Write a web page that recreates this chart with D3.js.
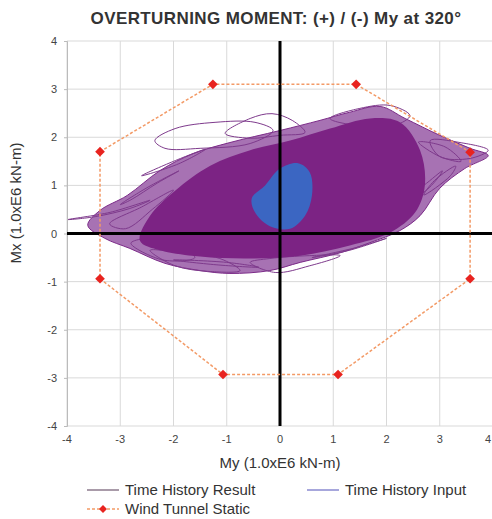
<!DOCTYPE html>
<html lang="en">
<head>
<meta charset="UTF-8">
<title>Overturning moment</title>
<script src="https://d3js.org/d3.v7.min.js"></script>
<style>
    body { margin: 0; background: #fff; }
    text { font-family: "Liberation Sans", Arial, sans-serif; }
    .grid line { stroke: #d9d9d9; stroke-width: 1; }
    .tick-label { font-size: 11px; fill: #444; }
</style>
</head>
<body>
<svg id="chart" width="492" height="519"></svg>
<script>
    // axis ticks
    const xTicks = [-4, -3, -2, -1, 0, 1, 2, 3, 4];
    const yTicks = [-4, -3, -2, -1, 0, 1, 2, 3, 4];

    // Wind Tunnel Static envelope (My, Mx), closed octagon
    const windTunnel = [
        [-3.38, 1.70], [-1.26, 3.10], [1.43, 3.10], [3.57, 1.69],
        [3.57, -0.94], [1.09, -2.93], [-1.07, -2.93], [-3.38, -0.94], [-3.38, 1.70]
    ];

    // Time History Result: outer envelope of the trajectory cloud
    const resultEnvelope = [
        [-3.61, 0.17], [-3.38, 0.48], [-2.87, 0.79], [-2.25, 1.31], [-1.63, 1.66],
        [-0.94, 1.89], [0.00, 2.14], [0.75, 2.35], [1.31, 2.52], [1.88, 2.64],
        [2.35, 2.39], [3.00, 2.04], [3.57, 1.77], [3.91, 1.62], [3.47, 1.35],
        [3.00, 0.94], [2.63, 0.37], [2.25, 0.06], [1.69, -0.19], [1.13, -0.40],
        [0.38, -0.60], [-0.19, -0.77], [-0.94, -0.83], [-1.50, -0.77],
        [-2.16, -0.62], [-2.82, -0.31], [-3.29, -0.10]
    ];

    // Time History Result: densely overlapped core
    const resultCore = [
        [-2.63, -0.15], [-2.44, 0.37], [-1.97, 0.89], [-1.31, 1.41], [-0.56, 1.73],
        [0.19, 1.93], [0.94, 2.18], [1.69, 2.39], [2.25, 2.31], [2.63, 1.73],
        [2.72, 1.00], [2.54, 0.44], [2.07, 0.02], [1.31, -0.25], [0.38, -0.46],
        [-0.56, -0.52], [-1.50, -0.48], [-2.25, -0.35]
    ];

    // individual loops visible around the edge of the cloud
    const resultLoops = [
        [[-2.35, 1.93], [-1.97, 2.18], [-1.22, 2.31], [-0.47, 2.31], [-0.13, 2.14], [-0.56, 1.87], [-1.50, 1.77], [-2.16, 1.77]],
        [[-1.03, 2.08], [-0.56, 2.39], [-0.15, 2.49], [0.23, 2.35], [0.47, 2.10], [0.00, 2.04], [-0.56, 1.98]],
        [[0.94, 2.39], [1.50, 2.60], [2.07, 2.66], [2.44, 2.45], [2.16, 2.25], [1.41, 2.25]],
        [[2.82, 1.93], [3.38, 1.89], [3.91, 1.73], [3.57, 1.56], [3.00, 1.60]],
        [[-2.44, -0.35], [-1.97, -0.67], [-1.31, -0.79], [-0.75, -0.77], [-1.13, -0.52], [-1.88, -0.40]],
        [[-0.56, -0.60], [-0.09, -0.81], [0.56, -0.67], [1.13, -0.46], [0.56, -0.46], [-0.19, -0.52]],
        [[-3.98, 0.29], [-3.19, 0.44], [-2.44, 0.69], [-2.82, 0.52], [-3.47, 0.35]],
        [[2.20, 0.50], [2.80, 0.95], [3.05, 1.30], [2.70, 1.00], [2.30, 0.70]],
        [[-3.20, 0.20], [-2.60, 0.55], [-2.00, 0.90], [-2.40, 0.50], [-2.90, 0.10]],
        [[-2.80, -0.20], [-2.20, -0.10], [-1.60, -0.50], [-2.20, -0.55]],
        [[-3.00, 0.60], [-2.50, 0.95], [-1.90, 1.30], [-2.30, 1.05], [-2.80, 0.70]],
        [[-2.60, 1.20], [-2.00, 1.50], [-1.40, 1.75], [-1.90, 1.45]],
        [[2.60, 1.90], [3.10, 1.80], [3.40, 1.50], [3.00, 1.60]],
        [[2.70, 0.80], [3.20, 1.20], [3.30, 1.40], [2.90, 1.10]],
        [[-2.00, -0.55], [-1.20, -0.65], [-0.40, -0.70], [-1.00, -0.60]],
        [[0.60, -0.50], [1.40, -0.30], [2.00, -0.10], [1.30, -0.35]]
    ];

    // Time History Input: small core around origin
    const inputCore = [
        [-0.28, 1.00], [0.00, 1.35], [0.34, 1.46], [0.56, 1.27], [0.60, 0.79],
        [0.47, 0.37], [0.19, 0.10], [-0.19, 0.15], [-0.47, 0.44], [-0.53, 0.73]
    ];

    const svg = d3.select("#chart");
    const plot = { left: 67, right: 493, top: 41, bottom: 426 };

    const x = d3.scaleLinear().domain([-4, 4]).range([plot.left, plot.right]);
    const y = d3.scaleLinear().domain([-4, 4]).range([plot.bottom, plot.top]);

    svg.append("defs").append("clipPath").attr("id", "clip")
        .append("rect")
        .attr("x", plot.left).attr("y", plot.top)
        .attr("width", plot.right - plot.left).attr("height", plot.bottom - plot.top);

    // gridlines
    const grid = svg.append("g").attr("class", "grid");
    grid.selectAll(".vx").data(xTicks).join("line")
        .attr("x1", d => x(d)).attr("x2", d => x(d))
        .attr("y1", plot.top).attr("y2", plot.bottom);
    grid.selectAll(".hy").data(yTicks).join("line")
        .attr("y1", d => y(d)).attr("y2", d => y(d))
        .attr("x1", plot.left).attr("x2", plot.right);

    // left axis ticks
    svg.append("g")
        .attr("transform", `translate(${plot.left},0)`)
        .call(d3.axisLeft(y).tickValues(yTicks).tickSize(3).tickFormat(""))
        .call(g => g.select(".domain").attr("stroke", "#bbb"))
        .call(g => g.selectAll(".tick line").attr("stroke", "#bbb"));

    const body = svg.append("g").attr("clip-path", "url(#clip)");
    const line = d3.line().x(d => x(d[0])).y(d => y(d[1]));
    const loop = d3.line().x(d => x(d[0])).y(d => y(d[1])).curve(d3.curveCatmullRomClosed);

    // time history result
    body.append("path")
        .attr("d", loop(resultEnvelope))
        .attr("fill", "#a772b3")
        .attr("stroke", "#7b2a88")
        .attr("stroke-width", 1);

    body.selectAll(".loop").data(resultLoops).join("path")
        .attr("d", d => loop(d))
        .attr("fill", "none")
        .attr("stroke", "#7e3a8c")
        .attr("stroke-width", 1);

    body.append("path")
        .attr("d", loop(resultCore))
        .attr("fill", "#7c2384");

    // time history input
    body.append("path")
        .attr("d", loop(inputCore))
        .attr("fill", "#3b66c2");

    // thick zero axes
    body.append("line")
        .attr("x1", x(0)).attr("x2", x(0)).attr("y1", plot.top).attr("y2", plot.bottom)
        .attr("stroke", "#000").attr("stroke-width", 3);
    body.append("line")
        .attr("x1", plot.left).attr("x2", plot.right).attr("y1", y(0)).attr("y2", y(0))
        .attr("stroke", "#000").attr("stroke-width", 3);

    // wind tunnel static
    body.append("path")
        .attr("d", line(windTunnel))
        .attr("fill", "none")
        .attr("stroke", "#f39a66")
        .attr("stroke-width", 1.5)
        .attr("stroke-dasharray", "3,2");

    const diamond = d3.symbol().type(d3.symbolDiamond2).size(60);
    body.selectAll(".wt").data(windTunnel.slice(0, -1)).join("path")
        .attr("d", diamond)
        .attr("transform", d => `translate(${x(d[0])},${y(d[1])})`)
        .attr("fill", "#e8231f");

    // tick labels
    svg.selectAll(".xl").data(xTicks).join("text")
        .attr("class", "tick-label")
        .attr("x", d => d === 4 ? 491 : x(d)).attr("y", 443)
        .attr("text-anchor", d => d === 4 ? "end" : "middle")
        .text(d => d);
    svg.selectAll(".yl").data(yTicks).join("text")
        .attr("class", "tick-label")
        .attr("x", 57).attr("y", d => y(d) + 4)
        .attr("text-anchor", "end")
        .text(d => d);

    // titles
    svg.append("text")
        .attr("x", 276).attr("y", 24)
        .attr("text-anchor", "middle")
        .style("font-size", "17px").style("font-weight", "bold")
        .style("letter-spacing", "0.4px").attr("fill", "#333")
        .text("OVERTURNING MOMENT: (+) / (-) My at 320°");
    svg.append("text")
        .attr("x", 280).attr("y", 468)
        .attr("text-anchor", "middle")
        .style("font-size", "15px").attr("fill", "#333")
        .text("My (1.0xE6 kN-m)");
    svg.append("text")
        .attr("transform", "translate(21,203) rotate(-90)")
        .attr("text-anchor", "middle")
        .style("font-size", "15px").attr("fill", "#333")
        .text("Mx (1.0xE6 kN-m)");

    // legend
    const legend = svg.append("g").style("font-size", "15px");
    const items = [
        { label: "Time History Result", x: 87, y: 490, color: "#8c7a8c" },
        { label: "Time History Input", x: 307, y: 490, color: "#8a8ad0" },
        { label: "Wind Tunnel Static", x: 87, y: 509, color: "#f39a66", marker: true }
    ];
    items.forEach(it => {
        legend.append("line")
            .attr("x1", it.x).attr("x2", it.x + 32)
            .attr("y1", it.y).attr("y2", it.y)
            .attr("stroke", it.color).attr("stroke-width", 1.5)
            .attr("stroke-dasharray", it.marker ? "3,2" : null);
        if (it.marker) {
            legend.append("path")
                .attr("d", d3.symbol().type(d3.symbolDiamond2).size(40))
                .attr("transform", `translate(${it.x + 16},${it.y})`)
                .attr("fill", "#e8231f");
        }
        legend.append("text")
            .attr("x", it.x + 38).attr("y", it.y + 5)
            .attr("fill", "#333")
            .text(it.label);
    });
</script>
</body>
</html>
